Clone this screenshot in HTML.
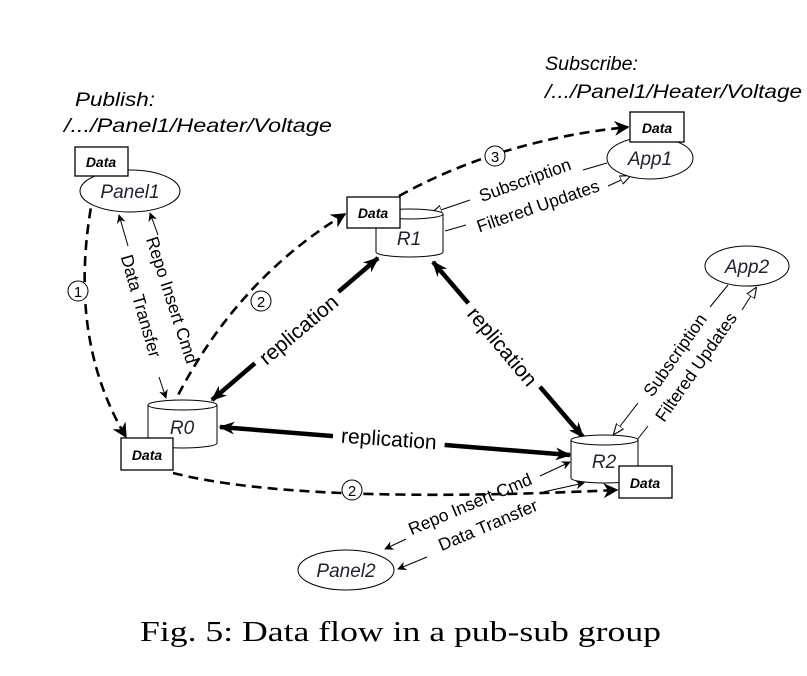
<!DOCTYPE html>
<html><head><meta charset="utf-8"><style>
html,body{margin:0;padding:0;background:#fff;}
svg{display:block;}
text{font-family:"Liberation Sans",sans-serif;}
.it{font-style:italic;}
.lbl{fill:#000;}
.node{font-size:19px;font-style:italic;fill:#223;}
.data{font-size:14px;font-weight:bold;font-style:italic;}
</style></head><body>
<svg width="807" height="676" viewBox="0 0 807 676" xmlns="http://www.w3.org/2000/svg">
<defs>
<marker id="a" viewBox="0 0 10 10" refX="9" refY="5" markerWidth="9" markerHeight="9" orient="auto-start-reverse" markerUnits="userSpaceOnUse"><path d="M0,0 L10,5 L0,10 L3,5 z" fill="#000"/></marker>
<marker id="ab" viewBox="0 0 10 10" refX="9" refY="5" markerWidth="16" markerHeight="16" orient="auto-start-reverse" markerUnits="userSpaceOnUse"><path d="M0,1 L10,5 L0,9 L3,5 z" fill="#000"/></marker>
<marker id="ad" viewBox="0 0 10 10" refX="9" refY="5" markerWidth="15" markerHeight="15" orient="auto-start-reverse" markerUnits="userSpaceOnUse"><path d="M0,0 L10,5 L0,10 L3,5 z" fill="#000"/></marker>
<marker id="o" viewBox="0 0 10 10" refX="9" refY="5" markerWidth="11" markerHeight="11" orient="auto-start-reverse" markerUnits="userSpaceOnUse"><path d="M0,1 L10,5 L0,9 z" fill="#fff" stroke="#000" stroke-width="1"/></marker>
</defs>

<!-- headings -->
<text x="75" y="106" class="it" font-size="19" textLength="80" lengthAdjust="spacingAndGlyphs">Publish:</text>
<text x="64" y="132" class="it" font-size="19" textLength="268" lengthAdjust="spacingAndGlyphs">/.../Panel1/Heater/Voltage</text>
<text x="545" y="70" class="it" font-size="19" textLength="93" lengthAdjust="spacingAndGlyphs">Subscribe:</text>
<text x="545" y="98" class="it" font-size="19" textLength="257" lengthAdjust="spacingAndGlyphs">/.../Panel1/Heater/Voltage</text>

<!-- thick replication lines -->
<g stroke="#000" stroke-width="4.5" fill="none">
<line x1="212" y1="400" x2="378" y2="258" marker-start="url(#ab)" marker-end="url(#ab)"/>
<line x1="433" y1="262" x2="583" y2="437" marker-start="url(#ab)" marker-end="url(#ab)"/>
<line x1="220" y1="427" x2="570" y2="455" marker-start="url(#ab)" marker-end="url(#ab)"/>
</g>
<g fill="#fff">
<rect x="243" y="316" width="110" height="28" transform="rotate(-40 298 329)"/>
<rect x="448" y="332" width="110" height="28" transform="rotate(50 503 346)"/>
<rect x="333" y="425" width="112" height="26" transform="rotate(4 389 438)"/>
</g>
<g class="lbl" font-size="21" text-anchor="middle">
<text x="298" y="337" transform="rotate(-40 298 329)">replication</text>
<text x="503" y="354" transform="rotate(50 503 346)">replication</text>
<text x="389" y="446" transform="rotate(4 389 438)">replication</text>
</g>

<!-- dashed lines -->
<g stroke="#000" stroke-width="2.6" fill="none" stroke-dasharray="10,6">
<path d="M97,177 Q62,330 126,437" marker-end="url(#ad)"/>
<path d="M158,438 Q220,290 345,214" marker-end="url(#ad)"/>
<path d="M173,473 Q300,505 617,490" marker-end="url(#ad)"/>
<path d="M399,196 Q500,140 628,127" marker-end="url(#ad)"/>
</g>
<g font-size="15" text-anchor="middle" fill="#000">
<circle cx="78" cy="291" r="10" fill="#fff" stroke="#000" stroke-width="1"/><text x="78" y="297">1</text>
<circle cx="261" cy="301" r="10" fill="#fff" stroke="#000" stroke-width="1"/><text x="261" y="307">2</text>
<circle cx="352" cy="490" r="10" fill="#fff" stroke="#000" stroke-width="1"/><text x="352" y="496">2</text>
<circle cx="495" cy="156" r="10" fill="#fff" stroke="#000" stroke-width="1"/><text x="495" y="162">3</text>
</g>

<!-- thin arrows -->
<g stroke="#000" stroke-width="1" fill="none">
<line x1="128" y1="246" x2="119" y2="215" marker-end="url(#a)"/>
<line x1="159" y1="377" x2="166" y2="398" marker-end="url(#a)"/>
<line x1="158" y1="235" x2="150" y2="213" marker-end="url(#a)"/>
<line x1="607" y1="163" x2="583" y2="170"/>
<line x1="470" y1="200" x2="432" y2="213" marker-end="url(#o)"/>
<line x1="445" y1="231" x2="466" y2="225"/>
<line x1="608" y1="186" x2="630" y2="176" marker-end="url(#o)"/>
<line x1="728" y1="285" x2="710" y2="307"/>
<line x1="638" y1="403" x2="614" y2="434" marker-end="url(#o)"/>
<line x1="637" y1="440" x2="648" y2="426"/>
<line x1="742" y1="310" x2="756" y2="288" marker-end="url(#o)"/>
<line x1="540" y1="476" x2="570" y2="462" marker-end="url(#a)"/>
<line x1="406" y1="539" x2="385" y2="549" marker-end="url(#a)"/>
<line x1="543" y1="492" x2="584" y2="483" marker-end="url(#a)"/>
<line x1="427" y1="557" x2="398" y2="569" marker-end="url(#a)"/>
</g>
<g class="lbl" font-size="17.5" text-anchor="middle">
<text x="141" y="312" transform="rotate(74 141 306)">Data Transfer</text>
<text x="172" y="306" transform="rotate(72 172 300)">Repo Insert Cmd</text>
<text x="525" y="186" transform="rotate(-20 525 180)">Subscription</text>
<text x="538" y="212" transform="rotate(-19 538 206)">Filtered Updates</text>
<text x="675" y="361" transform="rotate(-55 675 355)">Subscription</text>
<text x="696" y="373" transform="rotate(-55 696 367)">Filtered Updates</text>
<text x="470" y="510" transform="rotate(-23 470 504)">Repo Insert Cmd</text>
<text x="488" y="531" transform="rotate(-23 488 525)">Data Transfer</text>
</g>

<!-- nodes -->
<g stroke="#000" stroke-width="1" fill="#fff">
<ellipse cx="130" cy="191" rx="50" ry="21"/>
<ellipse cx="650" cy="158" rx="43" ry="21"/>
<ellipse cx="747" cy="266" rx="42" ry="20"/>
<ellipse cx="346" cy="570" rx="48" ry="20"/>
<path d="M148,405 L148,443 A34.5,5 0 0 0 217,443 L217,405"/>
<ellipse cx="182.5" cy="405" rx="34.5" ry="5"/>
<path d="M376,214 L376,252 A33.5,5 0 0 0 443,252 L443,214"/>
<ellipse cx="409.5" cy="214" rx="33.5" ry="5"/>
<path d="M571,440 L571,478 A33.5,5 0 0 0 638,478 L638,440"/>
<ellipse cx="604.5" cy="440" rx="33.5" ry="5"/>
</g>
<g class="node" text-anchor="middle">
<text x="130" y="198">Panel1</text>
<text x="650" y="165">App1</text>
<text x="747" y="273">App2</text>
<text x="346" y="577">Panel2</text>
<text x="182" y="434">R0</text>
<text x="409" y="245">R1</text>
<text x="604" y="468">R2</text>
</g>
<g stroke="#000" stroke-width="1.3" fill="#fff">
<rect x="75" y="147" width="53" height="29"/>
<rect x="121" y="438" width="52" height="32"/>
<rect x="347" y="197" width="53" height="31"/>
<rect x="630" y="112" width="54" height="30"/>
<rect x="619" y="466" width="53" height="32"/>
</g>
<g class="data" text-anchor="middle">
<text x="101" y="167">Data</text>
<text x="147" y="460">Data</text>
<text x="373" y="218">Data</text>
<text x="657" y="133">Data</text>
<text x="645" y="488">Data</text>
</g>

<text x="140" y="641" font-size="29" textLength="521" lengthAdjust="spacingAndGlyphs" style="font-family:'Liberation Serif',serif">Fig. 5: Data flow in a pub-sub group</text>
</svg>
</body></html>
